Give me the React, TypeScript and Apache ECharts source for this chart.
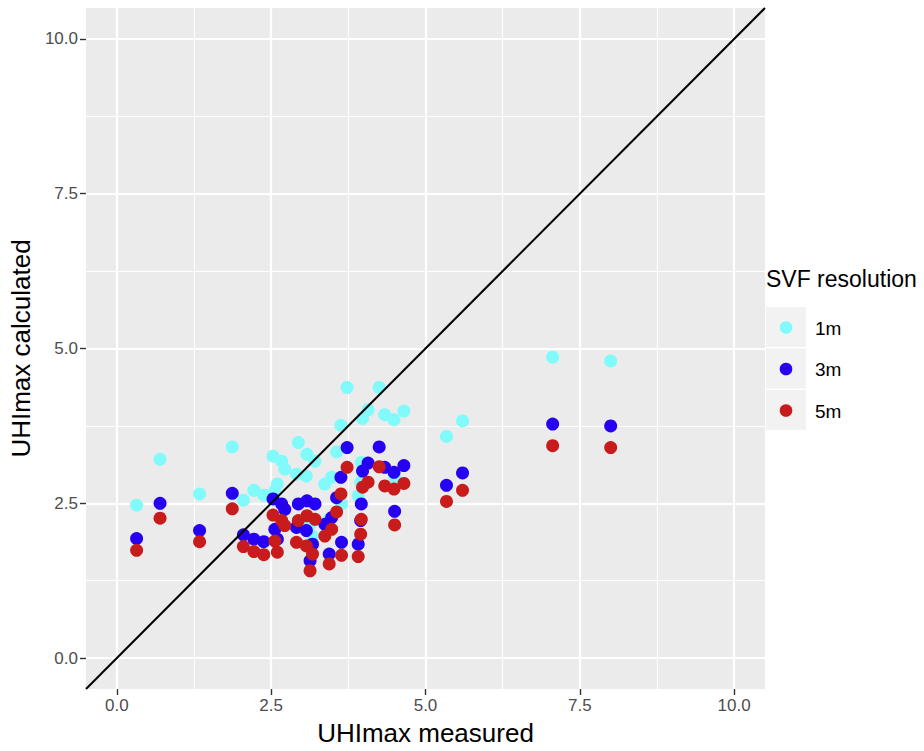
import React, { useEffect, useRef } from "react";
import * as echarts from "echarts";

// UHImax measured at each station
const measured = [
  0.32, 0.70, 1.34, 1.87, 2.05, 2.22, 2.38, 2.53, 2.56, 2.60,
  2.67, 2.72, 2.94, 2.91, 3.08, 3.07, 3.13, 3.17, 3.21, 3.37,
  3.44, 3.48, 3.56, 3.63, 3.64, 3.73, 3.91, 3.96, 3.95, 3.98,
  4.07, 4.25, 4.34, 4.49, 4.50, 4.65, 5.34, 5.60, 7.06, 8.00,
];
// UHImax calculated with SVF at 1 m resolution
const calc1m = [
  2.47, 3.21, 2.65, 3.41, 2.55, 2.71, 2.63, 3.26, 2.70, 2.81,
  3.18, 3.05, 3.48, 2.97, 3.29, 2.94, 2.16, 1.97, 3.18, 2.81,
  2.24, 2.92, 3.33, 3.76, 2.49, 4.37, 2.62, 3.16, 2.84, 3.87,
  4.01, 4.37, 3.93, 3.85, 2.92, 3.99, 3.58, 3.83, 4.86, 4.80,
];
// 3 m resolution
const calc3m = [
  1.93, 2.50, 2.06, 2.66, 1.99, 1.92, 1.88, 2.57, 2.08, 1.92,
  2.49, 2.40, 2.49, 2.11, 2.54, 2.06, 1.57, 1.84, 2.49, 2.16,
  1.68, 2.27, 2.59, 2.92, 1.87, 3.40, 1.84, 2.49, 2.22, 3.02,
  3.15, 3.41, 3.08, 3.00, 2.37, 3.11, 2.79, 2.99, 3.78, 3.75,
];
// 5 m resolution
const calc5m = [
  1.74, 2.26, 1.88, 2.41, 1.80, 1.72, 1.67, 2.31, 1.89, 1.71,
  2.22, 2.14, 2.22, 1.87, 2.30, 1.81, 1.41, 1.68, 2.24, 1.97,
  1.52, 2.08, 2.36, 2.65, 1.66, 3.08, 1.64, 2.24, 2.00, 2.76,
  2.84, 3.09, 2.78, 2.73, 2.15, 2.82, 2.53, 2.71, 3.43, 3.40,
];

const seriesNames = ["1m", "3m", "5m"];
const seriesColors = ["#80FAFA", "#2600F0", "#C81C1C"];
const legendTitle = "SVF resolution";
const xTitle = "UHImax measured";
const yTitle = "UHImax calculated";

const limits = [0, 10];
const majorBreaks = [0, 2.5, 5, 7.5, 10];
const minorBreaks = [1.25, 3.75, 6.25, 8.75];
// identity line y = intercept + slope * x
const abline = { intercept: 0, slope: 1 };

const FONT = "'Liberation Sans', Arial, Helvetica, sans-serif";

export default function App() {
  const ref = useRef<HTMLDivElement>(null);

  useEffect(() => {
    document.body.style.margin = "0";
    if (!ref.current) return;
    const chart = echarts.init(ref.current, undefined, { renderer: "svg" });

    const span = limits[1] - limits[0];
    const lo = limits[0] - 0.05 * span;
    const hi = limits[1] + 0.05 * span;

    const pts = (vals: number[]) => measured.map((m, i) => [m, vals[i]]);
    const calc = [calc1m, calc3m, calc5m];

    const axisCommon = {
      type: "value" as const,
      min: lo,
      max: hi,
      axisLine: {
        show: true,
        onZero: false,
        lineStyle: { color: "rgba(0,0,0,0)", width: 0 },
      },
      axisTick: {
        show: true,
        inside: false,
        customValues: majorBreaks,
        length: 6,
        lineStyle: { color: "#333333", width: 1.4 },
      },
      axisLabel: {
        show: true,
        customValues: majorBreaks,
        formatter: (v: number) => v.toFixed(1),
        color: "#4D4D4D",
        fontSize: 17,
        fontFamily: FONT,
      },
      splitLine: { show: false },
      minorSplitLine: { show: false },
      nameLocation: "middle" as const,
      nameTextStyle: { color: "#000000", fontSize: 26, fontFamily: FONT },
    };

    const gridLine = (vals: number[], width: number) => ({
      type: "scatter",
      data: [],
      silent: true,
      z: 1,
      markLine: {
        silent: true,
        z: 1,
        symbol: "none",
        animation: false,
        label: { show: false },
        emphasis: { disabled: true },
        lineStyle: { color: "#FFFFFF", width, type: "solid" },
        data: [
          ...vals.map((v) => ({ xAxis: v })),
          ...vals.map((v) => ({ yAxis: v })),
        ],
      },
    });

    const legendX = 766;
    const keyTop = 307;
    const keyStep = 41.5;
    const graphics: any[] = [
      {
        type: "text",
        left: legendX,
        top: 267,
        style: {
          text: legendTitle,
          fontSize: 23,
          fontFamily: FONT,
          fill: "#000000",
        },
      },
    ];
    seriesNames.forEach((name, i) => {
      const y = keyTop + i * keyStep;
      graphics.push({
        type: "rect",
        shape: { x: legendX, y, width: 40, height: 40 },
        style: { fill: "#F2F2F2" },
      });
      graphics.push({
        type: "circle",
        shape: { cx: legendX + 20, cy: y + 20.5, r: 6.3 },
        style: { fill: seriesColors[i] },
      });
      graphics.push({
        type: "text",
        x: legendX + 49,
        y: y + 21,
        style: {
          text: name,
          fontSize: 19,
          fontFamily: FONT,
          fill: "#000000",
          verticalAlign: "middle",
          align: "left",
        },
      });
    });

    const option: any = {
      animation: false,
      backgroundColor: "#FFFFFF",
      textStyle: { fontFamily: FONT },
      grid: {
        left: 82.7,
        right: 159,
        top: 8,
        bottom: 61,
        show: true,
        backgroundColor: "#EBEBEB",
        borderWidth: 0,
      },
      xAxis: {
        ...axisCommon,
        name: xTitle,
        nameGap: 31,
        axisLabel: { ...axisCommon.axisLabel, margin: 8 },
      },
      yAxis: {
        ...axisCommon,
        name: yTitle,
        nameGap: 47,
        axisLabel: { ...axisCommon.axisLabel, margin: 8 },
      },
      graphic: graphics,
      series: [
        gridLine(minorBreaks, 1.1),
        gridLine(majorBreaks, 2.2),
        ...seriesNames.map((name, i) => ({
          name,
          type: "scatter",
          z: 2,
          symbol: "circle",
          symbolSize: 13,
          itemStyle: { color: seriesColors[i], opacity: 1 },
          data: pts(calc[i]),
        })),
        {
          type: "line",
          z: 3,
          silent: true,
          symbol: "none",
          lineStyle: { color: "#000000", width: 2 },
          data: [
            [lo, abline.intercept + abline.slope * lo],
            [hi, abline.intercept + abline.slope * hi],
          ],
        },
      ],
    };

    chart.setOption(option);
    return () => chart.dispose();
  }, []);

  return <div ref={ref} style={{ width: 924, height: 751 }} />;
}
